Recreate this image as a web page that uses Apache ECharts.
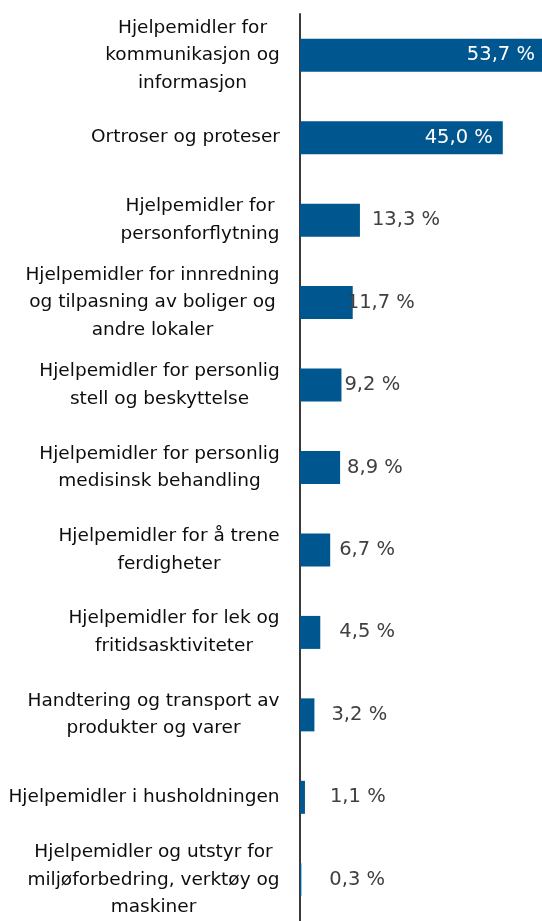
<!DOCTYPE html>
<html>
<head>
<meta charset="utf-8">
<script src="https://cdn.jsdelivr.net/npm/echarts@6/dist/echarts.min.js"></script>
<style>
  html, body { margin: 0; padding: 0; background: #fff; }
  #chart { width: 542px; height: 921px; }
</style>
</head>
<body>
<div id="chart"></div>
<script>
// kategorier (linjeskift som i originalen)
const categories = [
  'Hjelpemidler for\nkommunikasjon og\ninformasjon',
  'Ortroser og proteser',
  'Hjelpemidler for\npersonforflytning',
  'Hjelpemidler for innredning\nog tilpasning av boliger og\nandre lokaler',
  'Hjelpemidler for personlig\nstell og beskyttelse',
  'Hjelpemidler for personlig\nmedisinsk behandling',
  'Hjelpemidler for å trene\nferdigheter',
  'Hjelpemidler for lek og\nfritidsasktiviteter',
  'Handtering og transport av\nprodukter og varer',
  'Hjelpemidler i husholdningen',
  'Hjelpemidler og utstyr for\nmiljøforbedring, verktøy og\nmaskiner'
]
// andel i prosent
const values = [53.7, 45.0, 13.3, 11.7, 9.2, 8.9, 6.7, 4.5, 3.2, 1.1, 0.3]

const FONT = 'DejaVu Sans'
const LABEL_SIZE = 18.5
const VALUE_SIZE = 19.5
const BAR_COLOR = '#00568e'

// etikettavstand fra søyleenden (som i Excel-originalen)
const labelShift = [7, 10, 12, -6, 3, 7, 9, 19, 17, 25, 28]

// mål linjebredder slik at hver etikett blir sentrert i sin egen blokk
const ctx = document.createElement('canvas').getContext('2d')
ctx.font = LABEL_SIZE + 'px "' + FONT + '"'
const rich = {}
categories.forEach((c, i) => {
  const w = Math.max(...c.split('\n').map((l) => ctx.measureText(l).width))
  rich['c' + i] = {
    width: Math.ceil(w),
    align: 'center',
    fontFamily: FONT,
    fontSize: LABEL_SIZE,
    color: '#0d0d0d',
    lineHeight: 27.5
  }
})

const myChart = echarts.init(document.getElementById('chart'))

myChart.setOption({
  animation: false,
  grid: { left: 300, right: 0, top: 14, bottom: 0, containLabel: false },
  xAxis: {
    type: 'value',
    min: 0,
    max: 53.7,
    show: false
  },
  yAxis: {
    type: 'category',
    inverse: true,
    data: categories,
    axisLine: { show: true, lineStyle: { color: '#3a3a3a', width: 2 } },
    axisTick: { show: false },
    axisLabel: {
      margin: 20,
      formatter: function (val, idx) {
        return val
          .split('\n')
          .map((l) => '{c' + idx + '|' + l + '}')
          .join('\n')
      },
      rich: rich
    }
  },
  series: [
    {
      type: 'bar',
      barWidth: 33,
      itemStyle: { color: BAR_COLOR },
      data: values.map((v, i) => ({
        value: v,
        label:
          i < 2
            ? {
                show: true,
                position: 'insideRight',
                distance: labelShift[i],
                color: '#ffffff'
              }
            : {
                show: true,
                position: 'right',
                distance: labelShift[i],
                color: '#404040'
              }
      })),
      label: {
        fontFamily: FONT,
        fontSize: VALUE_SIZE,
        formatter: (p) => p.value.toFixed(1).replace('.', ',') + ' %'
      },
      z: 1
    }
  ]
})
</script>
</body>
</html>
